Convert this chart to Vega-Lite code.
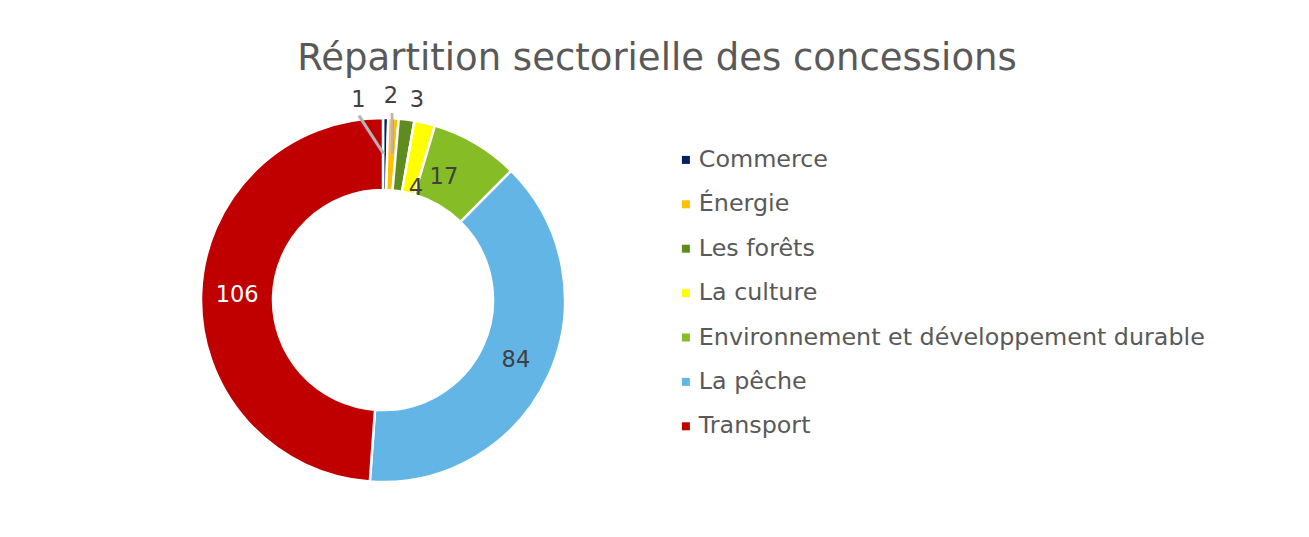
{
  "$schema": "https://vega.github.io/schema/vega-lite/v6.json",
  "width": 560,
  "height": 364,
  "autosize": {"type": "none"},
  "padding": {"left": 103, "top": 118, "right": 646, "bottom": 55},
  "background": "white",
  "config": {"view": {"stroke": null}, "font": "DejaVu Sans"},
  "title": {
    "text": "Répartition sectorielle des concessions",
    "fontSize": 37,
    "fontWeight": "normal",
    "color": "#595959",
    "font": "DejaVu Sans",
    "anchor": "middle",
    "frame": "group",
    "baseline": "alphabetic",
    "offset": -22,
    "dx": 274
  },
  "data": {
    "values": [
      {"sector": "Commerce", "value": 1, "ord": 1},
      {"sector": "Énergie", "value": 2, "ord": 2},
      {"sector": "Les forêts", "value": 3, "ord": 3},
      {"sector": "La culture", "value": 4, "ord": 4},
      {"sector": "Environnement et développement durable", "value": 17, "ord": 5},
      {"sector": "La pêche", "value": 84, "ord": 6},
      {"sector": "Transport", "value": 106, "ord": 7}
    ]
  },
  "encoding": {
    "theta": {"field": "value", "type": "quantitative", "stack": true},
    "order": {"field": "ord", "type": "quantitative"}
  },
  "layer": [
    {
      "mark": {"type": "arc", "outerRadius": 182, "innerRadius": 110, "stroke": "white", "strokeWidth": 2.5},
      "encoding": {
        "color": {
          "field": "sector",
          "type": "nominal",
          "sort": ["Commerce", "Énergie", "Les forêts", "La culture", "Environnement et développement durable", "La pêche", "Transport"],
          "scale": {
            "domain": ["Commerce", "Énergie", "Les forêts", "La culture", "Environnement et développement durable", "La pêche", "Transport"],
            "range": ["#002060", "#FFC000", "#5E8C1F", "#FFFF00", "#86BC25", "#62B5E5", "#C00000"]
          },
          "legend": {
            "title": null,
            "orient": "none",
            "legendX": 571,
            "legendY": 30,
            "symbolType": "square",
            "symbolSize": 64,
            "symbolStrokeWidth": 0,
            "labelFontSize": 23.8,
            "labelFont": "DejaVu Sans",
            "labelColor": "#595959",
            "labelOffset": 1,
            "rowPadding": 19.4,
            "labelLimit": 700
          }
        }
      }
    },
    {
      "mark": {"type": "text", "radius": 165, "thetaOffset": -0.003, "fontSize": 34, "font": "DejaVu Sans Mono", "color": "#B4B4B4"},
      "encoding": {
        "text": {
          "condition": {"test": "datum.ord === 2", "value": "│"},
          "value": ""
        }
      }
    },
    {
      "mark": {"type": "text", "radius": 164, "thetaOffset": -0.079, "angle": -33, "fontSize": 38, "font": "DejaVu Sans Mono", "color": "#B4B4B4"},
      "encoding": {
        "text": {
          "condition": {"test": "datum.ord === 1", "value": "│"},
          "value": ""
        }
      }
    },
    {
      "mark": {"type": "text", "radius": 146, "fontSize": 22.5, "font": "DejaVu Sans"},
      "encoding": {
        "text": {
          "condition": {"test": "datum.ord >= 6", "field": "value", "type": "quantitative"},
          "value": ""
        },
        "color": {
          "condition": {"test": "datum.sector === 'Transport'", "value": "#FFFFFF"},
          "value": "#404040"
        }
      }
    },
    {
      "mark": {"type": "text", "radius": 137, "thetaOffset": -0.075, "fontSize": 22.5, "font": "DejaVu Sans", "color": "#404040"},
      "encoding": {
        "text": {
          "condition": {"test": "datum.ord === 5", "field": "value", "type": "quantitative"},
          "value": ""
        }
      }
    },
    {
      "mark": {"type": "text", "radius": 117, "thetaOffset": 0.054, "fontSize": 22.5, "font": "DejaVu Sans", "color": "#404040"},
      "encoding": {
        "text": {
          "condition": {"test": "datum.ord === 4", "field": "value", "type": "quantitative"},
          "value": ""
        }
      }
    },
    {
      "mark": {"type": "text", "radius": 203, "thetaOffset": 0.037, "fontSize": 22.5, "font": "DejaVu Sans", "color": "#404040"},
      "encoding": {
        "text": {
          "condition": {"test": "datum.ord === 3", "field": "value", "type": "quantitative"},
          "value": ""
        }
      }
    },
    {
      "mark": {"type": "text", "radius": 204, "thetaOffset": -0.019, "fontSize": 22.5, "font": "DejaVu Sans", "color": "#404040"},
      "encoding": {
        "text": {
          "condition": {"test": "datum.ord === 2", "field": "value", "type": "quantitative"},
          "value": ""
        }
      }
    },
    {
      "mark": {"type": "text", "radius": 202, "thetaOffset": -0.137, "fontSize": 22.5, "font": "DejaVu Sans", "color": "#404040"},
      "encoding": {
        "text": {
          "condition": {"test": "datum.ord === 1", "field": "value", "type": "quantitative"},
          "value": ""
        }
      }
    }
  ]
}
